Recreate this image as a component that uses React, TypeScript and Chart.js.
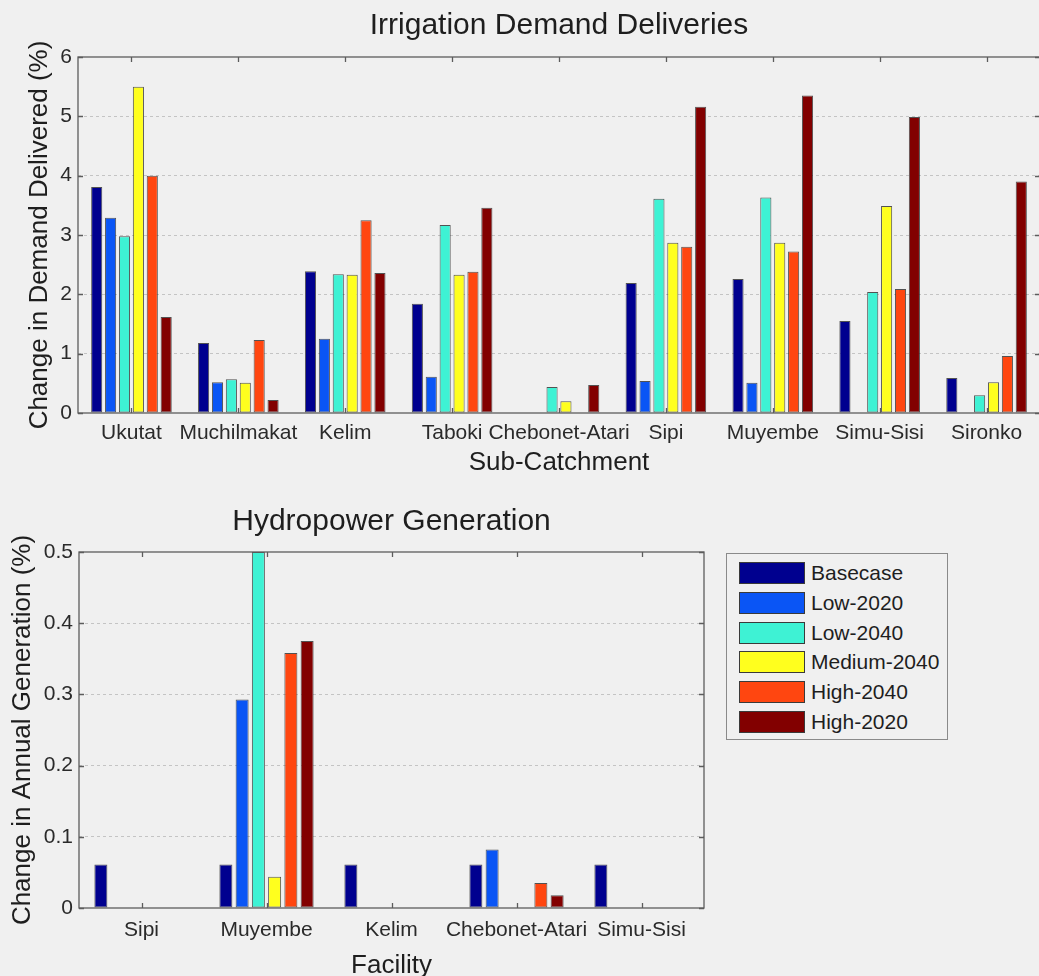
import React, { useEffect, useRef } from 'react';
import { Chart, registerables } from 'chart.js';

Chart.register(...registerables);

// ---------- data ----------
const seriesNames = ['Basecase', 'Low-2020', 'Low-2040', 'Medium-2040', 'High-2040', 'High-2020'];
const seriesColors = ['#00008f', '#0a55f5', '#3ef2d4', '#ffff1e', '#ff4610', '#820000'];

const subCatchments = ['Ukutat', 'Muchilmakat', 'Kelim', 'Taboki', 'Chebonet-Atari', 'Sipi', 'Muyembe', 'Simu-Sisi', 'Sironko'];
const irrBasecase = [3.81, 1.18, 2.39, 1.84, 0, 2.19, 2.26, 1.55, 0.59];
const irrLow2020 = [3.29, 0.52, 1.25, 0.61, 0, 0.54, 0.51, 0, 0];
const irrLow2040 = [2.98, 0.57, 2.34, 3.17, 0.44, 3.61, 3.63, 2.04, 0.3];
const irrMedium2040 = [5.5, 0.51, 2.33, 2.33, 0.2, 2.87, 2.87, 3.49, 0.52];
const irrHigh2040 = [4.0, 1.23, 3.25, 2.38, 0, 2.8, 2.72, 2.09, 0.96];
const irrHigh2020 = [1.62, 0.22, 2.36, 3.46, 0.47, 5.16, 5.35, 4.99, 3.9];
const irrTicks = [0, 1, 2, 3, 4, 5, 6];

const facilities = ['Sipi', 'Muyembe', 'Kelim', 'Chebonet-Atari', 'Simu-Sisi'];
const hydBasecase = [0.061, 0.061, 0.061, 0.061, 0.061];
const hydLow2020 = [0, 0.293, 0, 0.082, 0];
const hydLow2040 = [0, 0.5, 0, 0, 0];
const hydMedium2040 = [0, 0.044, 0, 0, 0];
const hydHigh2040 = [0, 0.358, 0, 0.035, 0];
const hydHigh2020 = [0, 0.375, 0, 0.018, 0];
const hydTicks = [0, 0.1, 0.2, 0.3, 0.4, 0.5];

const FONT = '"Liberation Sans", Arial, Helvetica, sans-serif';
const BG = '#f0f0f0';

const framePlugin = {
  id: 'matlabFrame',
  afterDatasetsDraw(chart: any) {
    const { ctx, chartArea: a, scales } = chart;
    ctx.save();
    ctx.strokeStyle = '#5c5c5c';
    ctx.lineWidth = 1.3;
    ctx.setLineDash([]);
    ctx.strokeRect(a.left, a.top, a.right - a.left, a.bottom - a.top);
    const tl = 5;
    const xs = scales.x;
    xs.ticks.forEach((_: any, i: number) => {
      const px = Math.round(xs.getPixelForTick(i)) + 0.5;
      ctx.beginPath();
      ctx.moveTo(px, a.top);
      ctx.lineTo(px, a.top + tl);
      ctx.moveTo(px, a.bottom);
      ctx.lineTo(px, a.bottom - tl);
      ctx.stroke();
    });
    const ys = scales.y;
    ys.ticks.forEach((_: any, i: number) => {
      const py = Math.round(ys.getPixelForTick(i)) + 0.5;
      ctx.beginPath();
      ctx.moveTo(a.left, py);
      ctx.lineTo(a.left + tl, py);
      ctx.moveTo(a.right, py);
      ctx.lineTo(a.right - tl, py);
      ctx.stroke();
    });
    ctx.restore();
  },
};

interface Cfg {
  labels: string[];
  series: number[][];
  ticks: number[];
  title: string;
  xTitle: string;
  yTitle: string;
  yAxisWidth: number;
  xAxisHeight: number;
  titlePad: { top: number; bottom: number };
  yTitlePadTop: number;
  xTickPad: number;
  xTitlePadBottom: number;
  rightPad: number;
}

function makeConfig(c: Cfg): any {
  const ticksList = c.ticks;
  return {
    type: 'bar',
    data: {
      labels: c.labels,
      datasets: c.series.map((vals, i) => ({
        label: seriesNames[i],
        data: vals,
        backgroundColor: seriesColors[i],
        borderColor: 'rgba(30,30,30,0.75)',
        borderWidth: 1,
        borderSkipped: false,
        barPercentage: 0.8,
        categoryPercentage: 0.78,
      })),
    },
    options: {
      responsive: false,
      animation: false,
      devicePixelRatio: 1,
      layout: { padding: { left: 0, right: c.rightPad, top: 0, bottom: 0 } },
      plugins: {
        legend: { display: false },
        tooltip: { enabled: false },
        title: {
          display: true,
          text: c.title,
          fullSize: false,
          color: '#1e1e1e',
          font: { family: FONT, size: 30, weight: 'normal', lineHeight: 1.2 },
          padding: c.titlePad,
        },
      },
      scales: {
        x: {
          type: 'category',
          grid: { display: false, drawTicks: false },
          border: { display: false },
          ticks: {
            autoSkip: false,
            maxRotation: 0,
            minRotation: 0,
            padding: c.xTickPad,
            color: '#2a2a2a',
            font: { family: FONT, size: 21, lineHeight: 1.2 },
          },
          title: {
            display: true,
            text: c.xTitle,
            color: '#1e1e1e',
            font: { family: FONT, size: 26, lineHeight: 1.2 },
            padding: { top: 0, bottom: c.xTitlePadBottom },
          },
          afterFit: (s: any) => {
            s.height = c.xAxisHeight;
          },
        },
        y: {
          min: ticksList[0],
          max: ticksList[ticksList.length - 1],
          afterBuildTicks: (s: any) => {
            s.ticks = ticksList.map((v) => ({ value: v }));
          },
          grid: {
            drawTicks: false,
            color: (ctx: any) => {
              const v = ctx.tick ? ctx.tick.value : 0;
              if (v === ticksList[0] || v === ticksList[ticksList.length - 1]) return 'rgba(0,0,0,0)';
              return '#c4c4c4';
            },
            lineWidth: 1,
          },
          border: { display: false, dash: [3, 3] },
          ticks: {
            padding: 6,
            color: '#2a2a2a',
            font: { family: FONT, size: 21, lineHeight: 1.2 },
            callback: (v: any) => String(Math.round(Number(v) * 10) / 10),
          },
          title: {
            display: true,
            text: c.yTitle,
            color: '#1e1e1e',
            font: { family: FONT, size: 26, lineHeight: 1.2 },
            padding: { top: c.yTitlePadTop, bottom: 0 },
          },
          afterFit: (s: any) => {
            s.width = c.yAxisWidth;
          },
        },
      },
    },
    plugins: [framePlugin],
  };
}

function ChartCanvas(props: { cfg: Cfg; width: number; height: number; left: number; top: number }) {
  const ref = useRef<HTMLCanvasElement | null>(null);
  useEffect(() => {
    if (!ref.current) return;
    const chart = new Chart(ref.current, makeConfig(props.cfg));
    return () => chart.destroy();
  }, []);
  return (
    <canvas
      ref={ref}
      width={props.width}
      height={props.height}
      style={{ position: 'absolute', left: props.left, top: props.top, width: props.width, height: props.height }}
    />
  );
}

const irrigationCfg: Cfg = {
  labels: subCatchments,
  series: [irrBasecase, irrLow2020, irrLow2040, irrMedium2040, irrHigh2040, irrHigh2020],
  ticks: irrTicks,
  title: 'Irrigation Demand Deliveries',
  xTitle: 'Sub-Catchment',
  yTitle: 'Change in Demand Delivered (%)',
  yAxisWidth: 78,
  xAxisHeight: 67,
  titlePad: { top: 8, bottom: 13 },
  yTitlePadTop: 24,
  xTickPad: 8,
  xTitlePadBottom: 2,
  rightPad: 2,
};

const hydroCfg: Cfg = {
  labels: facilities,
  series: [hydBasecase, hydLow2020, hydLow2040, hydMedium2040, hydHigh2040, hydHigh2020],
  ticks: hydTicks,
  title: 'Hydropower Generation',
  xTitle: 'Facility',
  yTitle: 'Change in Annual Generation (%)',
  yAxisWidth: 79,
  xAxisHeight: 82,
  titlePad: { top: 13.5, bottom: 12.5 },
  yTitlePadTop: 7,
  xTickPad: 10,
  xTitlePadBottom: 9,
  rightPad: 2,
};

function Legend() {
  return (
    <div
      style={{
        position: 'absolute',
        left: 726,
        top: 553,
        width: 220,
        height: 185,
        border: '1.5px solid #8a8a8a',
        background: BG,
        fontFamily: FONT,
        fontSize: 21,
        color: '#1e1e1e',
      }}
    >
      {seriesNames.map((name, i) => (
        <div
          key={name}
          style={{ position: 'absolute', left: 12, top: 8 + i * 29.8, height: 22, display: 'flex', alignItems: 'center' }}
        >
          <div
            style={{
              width: 64,
              height: 20,
              background: seriesColors[i],
              border: '1px solid #3a3a3a',
              marginRight: 6,
            }}
          />
          <span style={{ lineHeight: '22px', whiteSpace: 'nowrap' }}>{name}</span>
        </div>
      ))}
    </div>
  );
}

export default function App() {
  return (
    <div
      style={{
        position: 'absolute',
        left: 0,
        top: 0,
        width: 1039,
        height: 976,
        overflow: 'hidden',
        background: BG,
      }}
    >
      <ChartCanvas cfg={irrigationCfg} width={1042} height={480} left={0} top={0} />
      <ChartCanvas cfg={hydroCfg} width={706} height={500} left={0} top={490} />
      <Legend />
    </div>
  );
}
